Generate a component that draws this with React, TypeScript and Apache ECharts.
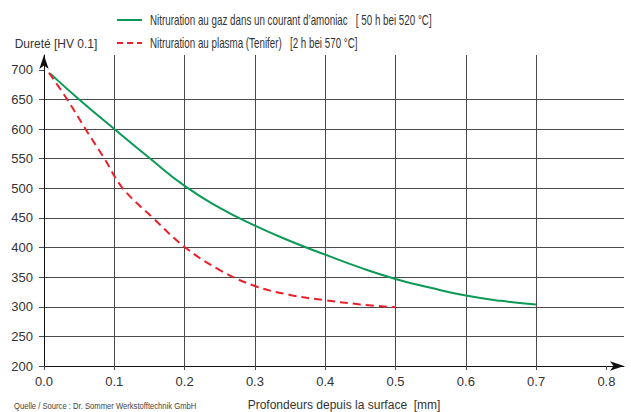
import React, { useEffect, useRef } from "react";
import * as echarts from "echarts";

const depthTicks = [0, 0.1, 0.2, 0.3, 0.4, 0.5, 0.6, 0.7, 0.8];
const hardTicks = [200, 250, 300, 350, 400, 450, 500, 550, 600, 650, 700];

const gasDepth = [0.0085, 0.05, 0.1, 0.15, 0.2, 0.25, 0.3, 0.35, 0.4, 0.45, 0.5, 0.55, 0.6, 0.65, 0.7];
const gasHardness = [694, 650, 600, 551, 504, 467, 437, 411, 388, 366, 347, 332, 319, 310, 304];

const plasmaDepth = [0.007, 0.033, 0.059, 0.086, 0.112, 0.155, 0.2, 0.25, 0.3, 0.35, 0.4, 0.45, 0.5];
const plasmaHardness = [695, 650, 600, 550, 500, 450, 401, 362, 335, 320, 311, 304, 299];

const gasName = "Nitruration au gaz dans un courant d\u2019amoniac   [ 50 h bei 520 \u00b0C]";
const plasmaName = "Nitruration au plasma (Tenifer)   [2 h bei 570 \u00b0C]";
const sourceText = "Quelle / Source : Dr. Sommer Werkstofftechnik GmbH";

const GREEN = "#0a9a55";
const RED = "#e8202a";
const FONT = "'Liberation Sans', Arial, sans-serif";

export default function App() {
  const ref = useRef<HTMLDivElement>(null);
  useEffect(() => {
    document.body.style.margin = "0";
    if (!ref.current) return;
    const chart = echarts.init(ref.current, null, { renderer: "svg" });
    const gridColor = "#4a4a4a";
    chart.setOption({
      animation: false,
      backgroundColor: "#fff",
      textStyle: { fontFamily: FONT },
      grid: { left: 44, right: 7, top: 55, bottom: 46, outerBoundsMode: "none", containLabel: false },
      xAxis: {
        type: "value",
        min: 0,
        max: 0.825,
        name: "Profondeurs depuis la surface  [mm]",
        nameLocation: "middle",
        nameGap: 33,
        nameTextStyle: { fontSize: 12, color: "#333", padding: [0, 0, 0, 20], fontFamily: FONT },
        axisLine: { show: true, lineStyle: { color: "#111", width: 1 }, symbol: ["none", "arrow"], symbolSize: [7, 14] },
        axisTick: { show: true, length: 4, inside: false, customValues: depthTicks, lineStyle: { color: gridColor } },
        axisLabel: { customValues: depthTicks, fontSize: 13, color: "#333", margin: 9, formatter: (v: number) => v.toFixed(1) },
        splitLine: { show: true, showMaxLine: false, lineStyle: { color: gridColor, width: 1 } },
      },
      yAxis: {
        type: "value",
        min: 200,
        max: 725,
        name: "Duret\u00e9 [HV 0.1]",
        nameLocation: "end",
        nameGap: 5,
        nameTextStyle: { fontSize: 12, color: "#333", padding: [0, 0, 0, 24], fontFamily: FONT },
        axisLine: { show: true, lineStyle: { color: "#111", width: 1 }, symbol: ["none", "arrow"], symbolSize: [7, 14] },
        axisTick: { show: true, length: 5, customValues: hardTicks, lineStyle: { color: gridColor } },
        axisLabel: { customValues: hardTicks, fontSize: 13, color: "#333", margin: 11 },
        splitLine: { show: true, showMaxLine: false, lineStyle: { color: gridColor, width: 1 } },
      },
      series: [
        {
          name: gasName,
          type: "line",
          smooth: 0.5,
          showSymbol: false,
          symbol: "none",
          color: GREEN,
          lineStyle: { color: GREEN, width: 2 },
          data: gasDepth.map((d, i) => [d, gasHardness[i]]),
          z: 3,
        },
        {
          name: plasmaName,
          type: "line",
          smooth: 0.4,
          showSymbol: false,
          symbol: "none",
          color: RED,
          lineStyle: { color: RED, width: 2, type: [8, 5] },
          data: plasmaDepth.map((d, i) => [d, plasmaHardness[i]]),
          z: 4,
        },
      ],
      graphic: [
        { type: "line", shape: { x1: 117, y1: 20, x2: 142, y2: 20 }, style: { stroke: GREEN, lineWidth: 2 } },
        {
          type: "text",
          x: 150,
          y: 20,
          scaleX: 0.7,
          style: { text: gasName, fontSize: 14, fill: "#333", fontFamily: FONT, verticalAlign: "middle", align: "left" },
        },
        { type: "line", shape: { x1: 117, y1: 43, x2: 142, y2: 43 }, style: { stroke: RED, lineWidth: 2, lineDash: [6, 4] } },
        {
          type: "text",
          x: 150,
          y: 43,
          scaleX: 0.7,
          style: { text: plasmaName, fontSize: 14, fill: "#333", fontFamily: FONT, verticalAlign: "middle", align: "left" },
        },
        {
          type: "text",
          x: 14,
          y: 406,
          scaleX: 0.85,
          style: { text: sourceText, fontSize: 9, fill: "#444", fontFamily: FONT, verticalAlign: "middle", align: "left" },
        },
      ],
    });
    return () => chart.dispose();
  }, []);
  return <div ref={ref} style={{ width: 631, height: 412 }} />;
}
